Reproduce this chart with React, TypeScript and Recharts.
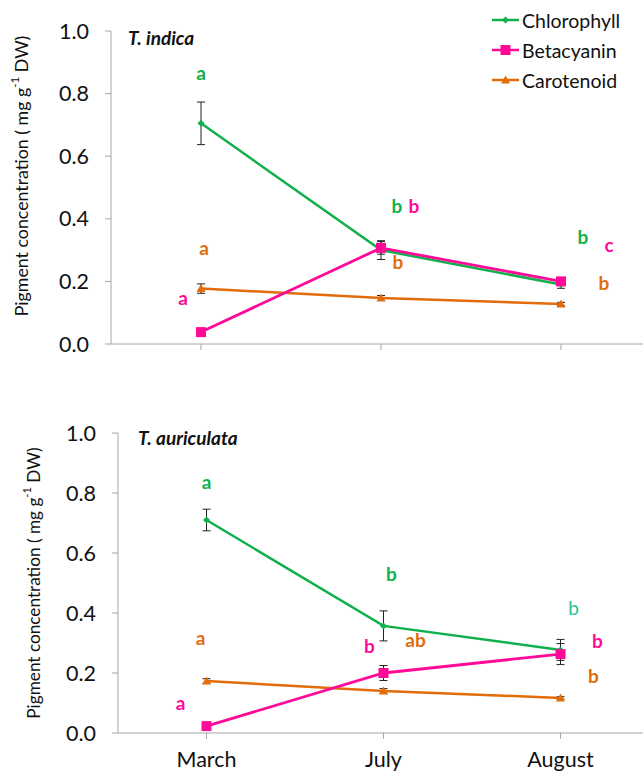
import React from "react";
import {
  LineChart, Line, XAxis, YAxis, ErrorBar, ReferenceDot,
} from "recharts";

const months = ["March", "July", "August"];
const yTicks = [0, 0.2, 0.4, 0.6, 0.8, 1.0];

// T. indica
const indicaChl = [0.705, 0.3, 0.19];
const indicaChlErr = [0.068, 0.03, 0.012];
const indicaBet = [0.038, 0.307, 0.2];
const indicaBetErr = [0, 0.02, 0.01];
const indicaCar = [0.177, 0.147, 0.128];
const indicaCarErr = [0.015, 0.008, 0.005];

// T. auriculata
const auricChl = [0.71, 0.357, 0.277];
const auricChlErr = [0.036, 0.05, 0.035];
const auricBet = [0.023, 0.2, 0.263];
const auricBetErr = [0, 0.025, 0.035];
const auricCar = [0.173, 0.14, 0.117];
const auricCarErr = [0.008, 0.008, 0.004];

// significance letters: month, value level, letter, series
const indicaLetters = [
  { month: "March", y: 0.869, text: "a", series: "chl", dx: 0 },
  { month: "March", y: 0.307, text: "a", series: "car", dx: 3 },
  { month: "March", y: 0.147, text: "a", series: "bet", dx: -18 },
  { month: "July", y: 0.444, text: "b", series: "chl", dx: 16 },
  { month: "July", y: 0.444, text: "b", series: "bet", dx: 33 },
  { month: "July", y: 0.262, text: "b", series: "car", dx: 17 },
  { month: "August", y: 0.342, text: "b", series: "chl", dx: 22 },
  { month: "August", y: 0.319, text: "c", series: "bet", dx: 48 },
  { month: "August", y: 0.198, text: "b", series: "car", dx: 43 },
];
const auricLetters = [
  { month: "March", y: 0.837, text: "a", series: "chl", dx: 0 },
  { month: "March", y: 0.317, text: "a", series: "car", dx: -6 },
  { month: "March", y: 0.103, text: "a", series: "bet", dx: -26 },
  { month: "July", y: 0.533, text: "b", series: "chl", dx: 8 },
  { month: "July", y: 0.293, text: "b", series: "bet", dx: -14 },
  { month: "July", y: 0.313, text: "ab", series: "car", dx: 32 },
  { month: "August", y: 0.42, text: "b", series: "chlLight", dx: 13 },
  { month: "August", y: 0.31, text: "b", series: "bet", dx: 37 },
  { month: "August", y: 0.193, text: "b", series: "car", dx: 33 },
];

const COLORS: Record<string, string> = {
  chl: "#10b04c",
  chlLight: "#2fc58a",
  bet: "#ff0a98",
  car: "#e36c0a",
};
const FONT = "Lato, 'Open Sans', sans-serif";
const AXIS = "#a6a6a6";

const build = (chl: number[], chlE: number[], bet: number[], betE: number[], car: number[], carE: number[]) =>
  months.map((m, i) => ({
    month: m,
    chl: chl[i], chlErr: chlE[i],
    bet: bet[i], betErr: betE[i],
    car: car[i], carErr: carE[i],
  }));

const indicaData = build(indicaChl, indicaChlErr, indicaBet, indicaBetErr, indicaCar, indicaCarErr);
const auricData = build(auricChl, auricChlErr, auricBet, auricBetErr, auricCar, auricCarErr);

function marker(kind: string, cx: number, cy: number, key?: any) {
  if (kind === "chl") {
    const r = 3.5;
    return <path key={key} d={`M${cx},${cy - r}L${cx + r},${cy}L${cx},${cy + r}L${cx - r},${cy}Z`} fill={COLORS.chl} />;
  }
  if (kind === "bet") {
    return <rect key={key} x={cx - 5} y={cy - 5} width={10} height={10} fill={COLORS.bet} />;
  }
  return <path key={key} d={`M${cx},${cy - 4.5}L${cx + 4.5},${cy + 3.5}L${cx - 4.5},${cy + 3.5}Z`} fill={COLORS.car} />;
}

const dotFor = (kind: string) => (p: any) => marker(kind, p.cx, p.cy, p.key ?? `${kind}-${p.index}`);

const legendItems = [
  { key: "chl", label: "Chlorophyll" },
  { key: "bet", label: "Betacyanin" },
  { key: "car", label: "Carotenoid" },
];

function LegendBox() {
  return (
    <div style={{ position: "absolute", left: 491, top: 5, fontFamily: FONT }}>
      {legendItems.map((it) => (
        <div key={it.key} style={{ display: "flex", alignItems: "center", height: 30 }}>
          <svg width={30} height={20} style={{ display: "block" }}>
            <line x1={1} y1={10} x2={28} y2={10} stroke={COLORS[it.key]} strokeWidth={2.5} />
            {marker(it.key, 14.5, 10)}
          </svg>
          <span style={{ fontSize: 19.5, color: "#111", marginLeft: 1 }}>{it.label}</span>
        </div>
      ))}
    </div>
  );
}

function Letter(props: any) {
  const { cx, cy, item } = props;
  return (
    <text
      x={cx + item.dx}
      y={cy}
      textAnchor="middle"
      dominantBaseline="central"
      fill={COLORS[item.series]}
      fontSize={19}
      fontWeight={item.series === "chlLight" ? 400 : 700}
      fontFamily={FONT}
    >
      {item.text}
    </text>
  );
}

function YLabel({ x, y, size }: { x: number; y: number; size: number }) {
  return (
    <text
      transform={`translate(${x},${y}) rotate(-90)`}
      textAnchor="middle"
      dominantBaseline="central"
      fontSize={size}
      fontFamily={FONT}
      fill="#111"
    >
      Pigment concentration ( mg g
      <tspan dy={-7} fontSize={size * 0.65}>-1</tspan>
      <tspan dy={7}> DW)</tspan>
    </text>
  );
}

interface PanelProps {
  data: any[];
  letters: any[];
  title: string;
  width: number;
  height: number;
  yAxisWidth: number;
  top: number;
  plotHeight: number;
  showMonths: boolean;
  labelPos: { x: number; y: number };
  labelSize: number;
  titlePos: { x: number; y: number };
}

function Panel(p: PanelProps) {
  const xAxisHeight = p.height - p.top - p.plotHeight;
  return (
    <LineChart
      width={p.width}
      height={p.height}
      data={p.data}
      margin={{ top: p.top, right: 0, bottom: 0, left: 0 }}
    >
      <XAxis
        dataKey="month"
        scale="band"
        height={xAxisHeight}
        stroke={AXIS}
        tickLine={{ stroke: AXIS }}
        tickSize={6}
        tickMargin={13}
        tick={p.showMonths ? { fill: "#111", fontSize: 21.5, fontFamily: FONT } : { fill: "none", fontSize: 1 }}
      />
      <YAxis
        width={p.yAxisWidth}
        domain={[0, 1]}
        ticks={yTicks}
        tickFormatter={(v: number) => v.toFixed(1)}
        stroke={AXIS}
        tickLine={{ stroke: AXIS }}
        tickSize={6}
        tickMargin={16}
        tick={{ fill: "#111", fontSize: 21.5, fontFamily: FONT }}
        interval={0}
      />
      <Line dataKey="chl" stroke={COLORS.chl} strokeWidth={2.5} dot={dotFor("chl")} activeDot={false} isAnimationActive={false}>
        <ErrorBar dataKey="chlErr" width={4} stroke="#222" strokeWidth={1} direction="y" />
      </Line>
      <Line dataKey="car" stroke={COLORS.car} strokeWidth={2.5} dot={dotFor("car")} activeDot={false} isAnimationActive={false}>
        <ErrorBar dataKey="carErr" width={4} stroke="#222" strokeWidth={1} direction="y" />
      </Line>
      <Line dataKey="bet" stroke={COLORS.bet} strokeWidth={2.8} dot={dotFor("bet")} activeDot={false} isAnimationActive={false}>
        <ErrorBar dataKey="betErr" width={4} stroke="#222" strokeWidth={1} direction="y" />
      </Line>
      {p.letters.map((l, i) => (
        <ReferenceDot
          key={i}
          x={l.month}
          y={l.y}
          r={0}
          ifOverflow="visible"
          shape={(sp: any) => <Letter {...sp} item={l} />}
        />
      ))}
      <YLabel x={p.labelPos.x} y={p.labelPos.y} size={p.labelSize} />
      <text
        x={p.titlePos.x}
        y={p.titlePos.y}
        dominantBaseline="central"
        fontSize={19}
        fontWeight={700}
        fontStyle="italic"
        fontFamily={FONT}
        fill="#111"
      >
        {p.title}
      </text>
    </LineChart>
  );
}

export default function App() {
  return (
    <div style={{ position: "absolute", left: 0, top: 0, width: 643, height: 773, overflow: "hidden", background: "#fff" }}>
      <div style={{ position: "absolute", left: 0, top: 0 }}>
        <Panel
          data={indicaData}
          letters={indicaLetters}
          title="T. indica"
          width={651}
          height={380}
          yAxisWidth={111}
          top={31}
          plotHeight={313}
          showMonths={false}
          labelPos={{ x: 21, y: 176 }}
          labelSize={17.8}
          titlePos={{ x: 128, y: 37 }}
        />
      </div>
      <LegendBox />
      <div style={{ position: "absolute", left: 0, top: 380 }}>
        <Panel
          data={auricData}
          letters={auricLetters}
          title="T. auriculata"
          width={649}
          height={393}
          yAxisWidth={118}
          top={53}
          plotHeight={300}
          showMonths
          labelPos={{ x: 33, y: 203 }}
          labelSize={17.2}
          titlePos={{ x: 138, y: 57 }}
        />
      </div>
    </div>
  );
}
